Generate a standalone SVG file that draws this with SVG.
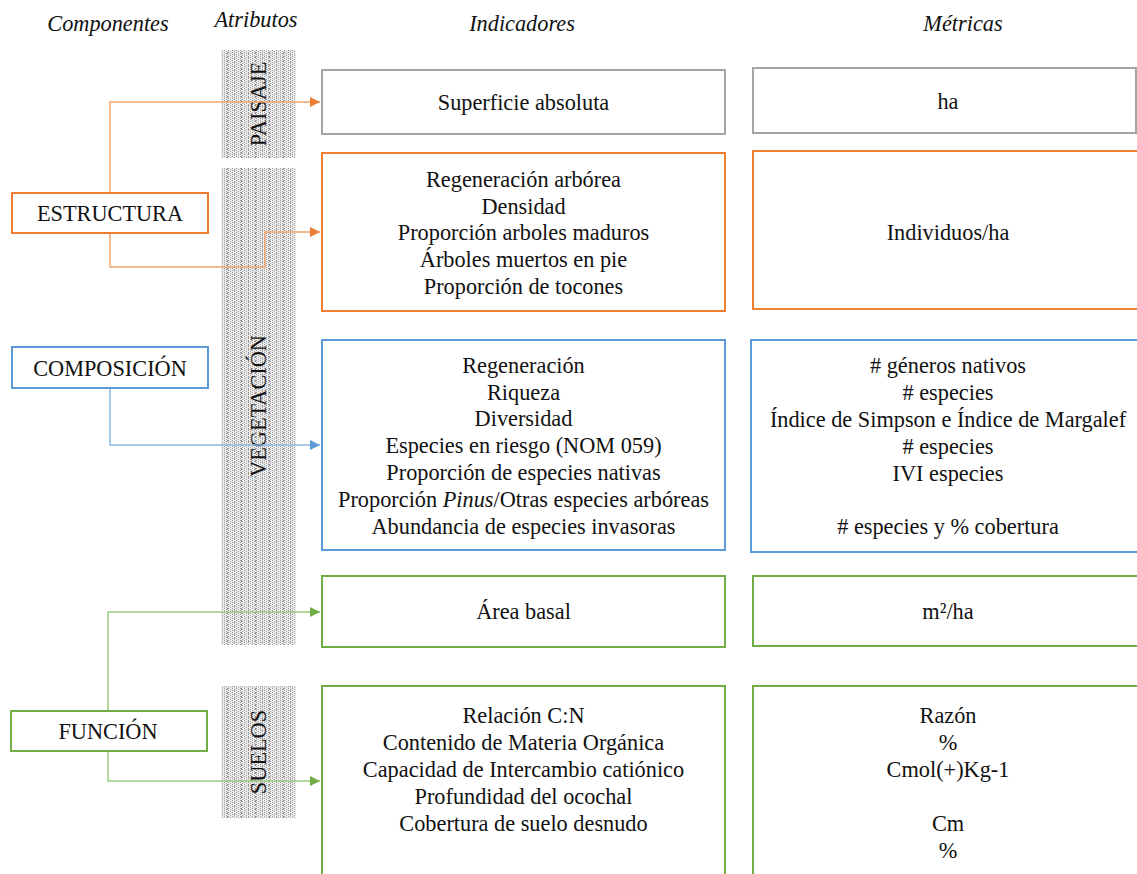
<svg xmlns="http://www.w3.org/2000/svg" width="1137" height="874" viewBox="0 0 1137 874">
<defs>
<pattern id="hatch" width="4" height="2" patternUnits="userSpaceOnUse">
<rect width="4" height="2" fill="#ececec"/>
<rect x="0" y="0" width="1" height="1" fill="#9a9a9a"/>
<rect x="2" y="1" width="1" height="1" fill="#a8a8a8"/>
</pattern>
<pattern id="stripes" width="14" height="4" patternUnits="userSpaceOnUse">
<rect x="3" y="0" width="1" height="2" fill="#8c8c8c"/>
<rect x="10" y="1" width="1" height="2" fill="#999"/>
</pattern>
<marker id="aO" viewBox="0 0 10 10" refX="10" refY="5" markerWidth="10" markerHeight="10" markerUnits="userSpaceOnUse" orient="auto"><path d="M0,0 L10,5 L0,10 z" fill="#ED7D31"/></marker>
<marker id="aB" viewBox="0 0 10 10" refX="10" refY="5" markerWidth="10" markerHeight="10" markerUnits="userSpaceOnUse" orient="auto"><path d="M0,0 L10,5 L0,10 z" fill="#5B9BD5"/></marker>
<marker id="aG" viewBox="0 0 10 10" refX="10" refY="5" markerWidth="10" markerHeight="10" markerUnits="userSpaceOnUse" orient="auto"><path d="M0,0 L10,5 L0,10 z" fill="#70AD47"/></marker>
</defs>
<style>
text{font-family:"Liberation Serif","Times New Roman",serif;font-size:22.3px;fill:#111;text-anchor:middle}
.hdr{font-style:italic}
.box{fill:#fff;stroke-width:2}
.gray{stroke:#A5A5A5}
.or{stroke:#ED7D31}
.bl{stroke:#5B9BD5}
.gr{stroke:#70AD47}
.bar{fill:url(#hatch)}
.str{fill:url(#stripes)}
.c{fill:none;stroke-width:1.5}
</style>
<rect width="1137" height="874" fill="#fff"/>

<g id="headers">
<text class="hdr" x="108" y="31">Componentes</text>
<text class="hdr" x="256" y="27">Atributos</text>
<text class="hdr" x="522" y="31">Indicadores</text>
<text class="hdr" x="963" y="31">Métricas</text>
</g>

<g id="attributes">
<rect class="bar" x="221" y="50" width="75" height="108"/>
<rect class="bar" x="221" y="168" width="75" height="477"/>
<rect class="bar" x="221" y="686" width="75" height="132"/>
<rect class="str" x="221" y="50" width="75" height="108"/>
<rect class="str" x="221" y="168" width="75" height="477"/>
<rect class="str" x="221" y="686" width="75" height="132"/>
<text transform="translate(266,104) rotate(-90)">PAISAJE</text>
<text transform="translate(266,406) rotate(-90)">VEGETACIÓN</text>
<text transform="translate(266,752) rotate(-90)">SUELOS</text>
</g>

<g id="connectors">
<path class="c" d="M110,193 V102 H320" stroke="#F4A46C" marker-end="url(#aO)"/>
<path class="c" d="M110,233 V267 H265 V232 H320" stroke="#F4A46C" marker-end="url(#aO)"/>
<path class="c" d="M110,388 V445 H320" stroke="#8DBBE5" marker-end="url(#aB)"/>
<path class="c" d="M108,711 V612 H320" stroke="#9ACB7F" marker-end="url(#aG)"/>
<path class="c" d="M108,751 V781 H320" stroke="#9ACB7F" marker-end="url(#aG)"/>
</g>

<g id="estructura">
<rect class="box or" x="12" y="193" width="196" height="40"/>
<text x="110" y="221">ESTRUCTURA</text>
</g>
<g id="composicion">
<rect class="box bl" x="12" y="347" width="196" height="41"/>
<text x="110" y="376">COMPOSICIÓN</text>
</g>
<g id="funcion">
<rect class="box gr" x="11" y="711" width="196" height="40"/>
<text x="108" y="739">FUNCIÓN</text>
</g>

<g id="ind-superficie">
<rect class="box gray" x="322" y="70" width="403" height="64"/>
<text x="523.5" y="110">Superficie absoluta</text>
</g>
<g id="ind-estructura">
<rect class="box or" x="322" y="153" width="403" height="158"/>
<text x="523.5" y="187">Regeneración arbórea</text>
<text x="523.5" y="214">Densidad</text>
<text x="523.5" y="240">Proporción arboles maduros</text>
<text x="523.5" y="267">Árboles muertos en pie</text>
<text x="523.5" y="294">Proporción de tocones</text>
</g>
<g id="ind-composicion">
<rect class="box bl" x="322" y="340" width="403" height="210"/>
<text x="523.5" y="373">Regeneración</text>
<text x="523.5" y="400">Riqueza</text>
<text x="523.5" y="426">Diversidad</text>
<text x="523.5" y="453">Especies en riesgo (NOM 059)</text>
<text x="523.5" y="480">Proporción de especies nativas</text>
<text x="523.5" y="507">Proporción <tspan font-style="italic">Pinus</tspan>/Otras especies arbóreas</text>
<text x="523.5" y="534">Abundancia de especies invasoras</text>
</g>
<g id="ind-area">
<rect class="box gr" x="322" y="576" width="403" height="71"/>
<text x="523.5" y="619">Área basal</text>
</g>
<g id="ind-suelos">
<rect class="box gr" x="322" y="686" width="403" height="200"/>
<text x="523.5" y="723">Relación C:N</text>
<text x="523.5" y="750">Contenido de Materia Orgánica</text>
<text x="523.5" y="777">Capacidad de Intercambio catiónico</text>
<text x="523.5" y="804">Profundidad del ocochal</text>
<text x="523.5" y="831">Cobertura de suelo desnudo</text>
</g>

<g id="met-superficie">
<rect class="box gray" x="753" y="68" width="383" height="65"/>
<text x="948" y="109">ha</text>
</g>
<g id="met-estructura">
<rect class="box or" x="753" y="151" width="400" height="158"/>
<text x="948" y="240">Individuos/ha</text>
</g>
<g id="met-composicion">
<rect class="box bl" x="751" y="340" width="400" height="212"/>
<text x="948" y="373"># géneros nativos</text>
<text x="948" y="400"># especies</text>
<text x="948" y="427">Índice de Simpson e Índice de Margalef</text>
<text x="948" y="454"># especies</text>
<text x="948" y="481">IVI especies</text>
<text x="948" y="534"># especies y % cobertura</text>
</g>
<g id="met-area">
<rect class="box gr" x="753" y="576" width="400" height="70"/>
<text x="948" y="619">m²/ha</text>
</g>
<g id="met-suelos">
<rect class="box gr" x="753" y="686" width="400" height="200"/>
<text x="948" y="723">Razón</text>
<text x="948" y="750">%</text>
<text x="948" y="777">Cmol(+)Kg-1</text>
<text x="948" y="831">Cm</text>
<text x="948" y="858">%</text>
</g>
</svg>
